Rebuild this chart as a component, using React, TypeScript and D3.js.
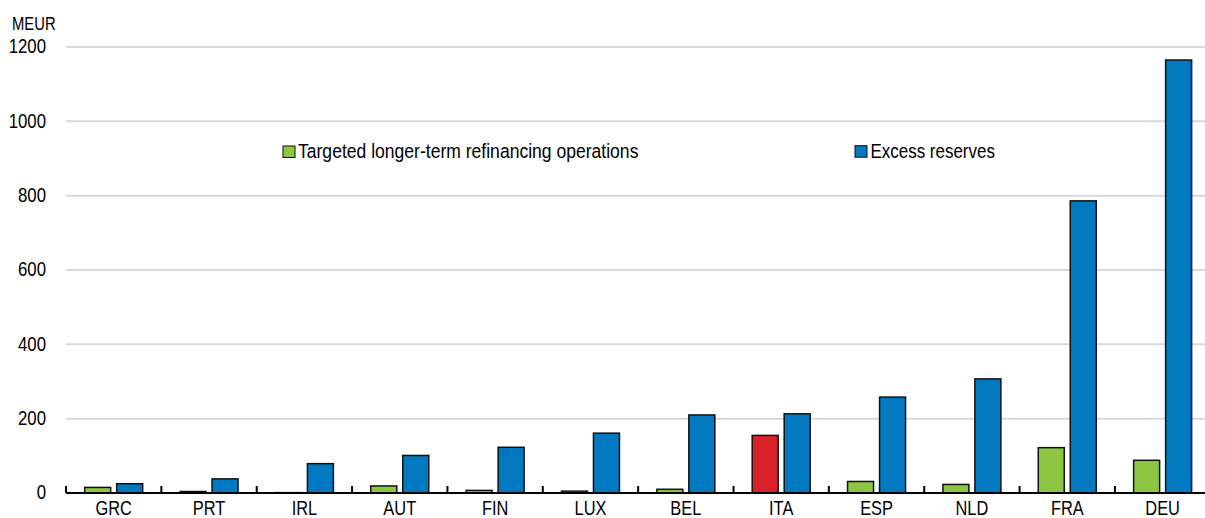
import React from "react";
import * as d3 from "d3";

const categories = ["GRC", "PRT", "IRL", "AUT", "FIN", "LUX", "BEL", "ITA", "ESP", "NLD", "FRA", "DEU"];
const tltro = [15, 4, 1, 19, 7, 5, 10, 155, 31, 23, 122, 88];
const excess = [25, 38, 79, 101, 123, 161, 210, 213, 258, 307, 786, 1165];
const yTicks = [0, 200, 400, 600, 800, 1000, 1200];
const seriesNames = ["Targeted longer-term refinancing operations", "Excess reserves"];

const GREEN = "#8dc641";
const BLUE = "#0079c1";
const RED = "#da2128";
const FONT = "'Liberation Sans', Arial, sans-serif";

function NText(props: { x: number; y: number; size: number; sx: number; anchor?: string; children: React.ReactNode }) {
  return (
    <text
      transform={`translate(${props.x},${props.y}) scale(${props.sx},1)`}
      textAnchor={props.anchor || "start"}
      fontFamily={FONT}
      fontSize={props.size}
      fill="#000"
    >
      {props.children}
    </text>
  );
}

export default function App() {
  const W = 1205, H = 518;
  const left = 66, right = 1210.3, bottom = 493, top = 47;
  const x = d3.scaleBand<string>().domain(categories).range([left, right]).padding(0);
  const y = d3.scaleLinear().domain([0, 1200]).range([bottom, top]);
  const barW = 26;
  const off = 16;
  return (
    <svg width={W} height={H} style={{ position: "absolute", left: 0, top: 0, background: "#fff" }}>
      <rect x={0} y={0} width={W} height={H} fill="#fff" />
      <NText x={12} y={29.5} size={18.5} sx={0.8}>MEUR</NText>
      {yTicks.map((t) => (
        <g key={t}>
          {t > 0 && <line x1={left} x2={1205} y1={y(t)} y2={y(t)} stroke="#d9d9d9" strokeWidth={2} />}
          <NText x={46} y={y(t) + 6.3} size={21} sx={0.8} anchor="end">{t}</NText>
        </g>
      ))}
      {categories.map((c, i) => {
        const cx = x(c)! + x.bandwidth() / 2;
        const g = tltro[i], b = excess[i];
        return (
          <g key={c}>
            <rect x={cx - off - barW / 2} y={y(g)} width={barW} height={bottom - y(g)}
              fill={c === "ITA" ? RED : GREEN} stroke="#111" strokeWidth={1.5} />
            <rect x={cx + off - barW / 2} y={y(b)} width={barW} height={bottom - y(b)}
              fill={BLUE} stroke="#111" strokeWidth={1.5} />
            <NText x={cx} y={514.5} size={20} sx={0.82} anchor="middle">{c}</NText>
          </g>
        );
      })}
      <line x1={left} x2={1205} y1={bottom} y2={bottom} stroke="#000" strokeWidth={2} />
      {categories.map((c) => (
        <line key={"t" + c} x1={x(c)!} x2={x(c)!} y1={bottom} y2={bottom - 7} stroke="#000" strokeWidth={2} />
      ))}
      <g>
        <rect x={283} y={146} width={12} height={11.5} fill={GREEN} stroke="#111" strokeWidth={1} />
        <NText x={298} y={158.3} size={19.5} sx={0.9}>{seriesNames[0]}</NText>
        <rect x={855} y={145.7} width={12} height={11.5} fill={BLUE} stroke="#111" strokeWidth={1} />
        <NText x={870.5} y={158.3} size={19.5} sx={0.87}>{seriesNames[1]}</NText>
      </g>
    </svg>
  );
}
